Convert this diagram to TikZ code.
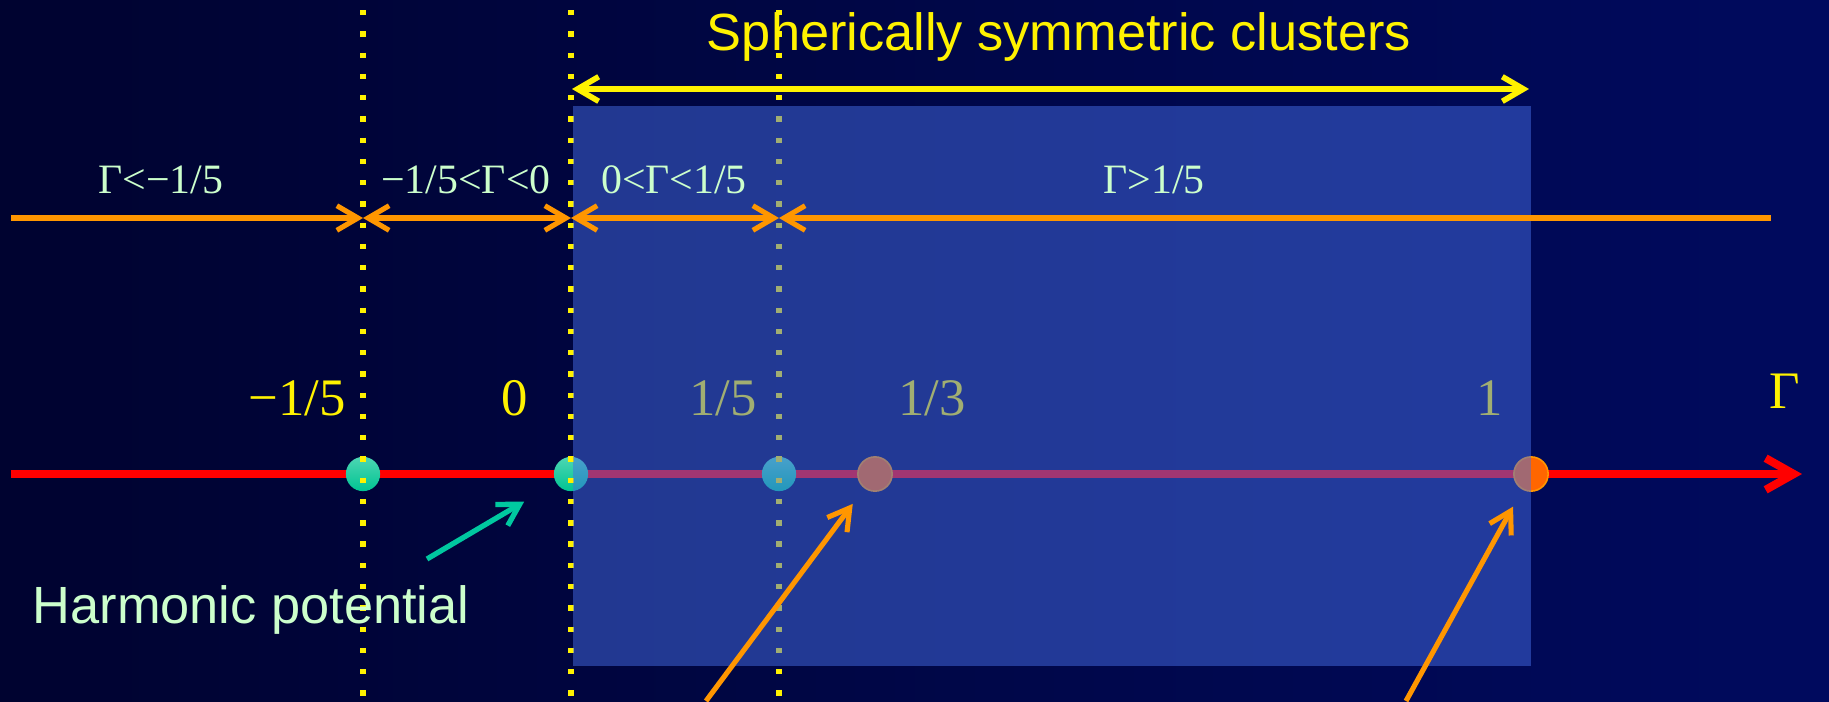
\documentclass[tikz,border=0pt]{standalone}
\usepackage{fontspec}
\setmainfont{Liberation Serif}
\setsansfont{Liberation Sans}
\usetikzlibrary{arrows.meta}
\definecolor{night}{RGB}{0,3,48}
\definecolor{deepnight}{RGB}{0,10,94}
\definecolor{zoneblue}{RGB}{68,108,228}
\definecolor{axisred}{RGB}{255,0,0}
\definecolor{amber}{RGB}{255,150,0}
\definecolor{mint}{RGB}{204,255,204}
\definecolor{ballgreen}{RGB}{0,196,146}
\definecolor{ballorange}{RGB}{255,102,0}
\definecolor{hintgreen}{RGB}{0,200,160}

\begin{document}
\begin{tikzpicture}[x=0.02cm, y=-0.02cm,
  barb/.tip={Straight Barb[length=12pt,width=14pt]},
  bigbarb/.tip={Straight Barb[length=16pt,width=18pt]},
  tick/.style={draw=yellow, line width=3pt, dash pattern=on 3pt off 9.1pt},
  ball/.style={circle, minimum size=19.5pt, inner sep=0pt},
  greenball/.style={ball, top color=ballgreen!70!white, bottom color=ballgreen},
  orangeball/.style={ball, fill=ballorange, draw=amber, line width=0.9pt},
  numlabel/.style={anchor=base, text=yellow, font=\fontsize{30}{34}\selectfont},
  zonelabel/.style={anchor=base, text=mint, font=\fontsize{23.8}{28}\selectfont},
  zoneline/.style={draw=amber, line width=2.9pt},
  pointer/.style={draw=amber, line width=2.9pt, -barb, shorten >=11pt}]
\useasboundingbox (0,0) rectangle (1829,701);
\clip (0,0) rectangle (1829,701);
\shade[left color=night, right color=deepnight] (0,0) rectangle (1829,701);
% --- the Gamma axis ---
\coordinate (axstart) at (11,474);
\coordinate (axend) at (1802,474);
\draw[axisred, line width=4.6pt, -bigbarb] (axstart) -- (axend);
\node[greenball] (bm) at (363,474) {};
\node[greenball] (bz) at (571,474) {};
\node[greenball] (bf) at (779,474) {};
\node[orangeball] (bt) at (875,474) {};
\node[orangeball] (bo) at (1531,474) {};
% dotted marks at -1/5, 0, 1/5
\foreach \x in {363,571,779}
  \draw[tick] (\x,10) -- (\x,701);
\node[numlabel] (lm) at (297,415) {−1/5};
\node[numlabel] (lz) at (515,415) {0};
\node[numlabel] (lf) at (723,415) {1/5};
\node[numlabel] (lt) at (932,415) {1/3};
\node[numlabel] (lo) at (1490,415) {1};
\node[numlabel] (lg) at (1785,408) {Γ};
% --- spherically symmetric zone ---
\fill[zoneblue, opacity=0.5] (573,106) rectangle (1531,666);
% --- the four ranges ---
\coordinate (r0) at (11,218);
\coordinate (r1) at (363,218);
\coordinate (r2) at (571,218);
\coordinate (r3) at (779,218);
\coordinate (r4) at (1771,218);
\draw[zoneline, -barb] (r0) -- (r1);
\draw[zoneline, barb-barb] (r1) -- (r2);
\draw[zoneline, barb-barb] (r2) -- (r3);
\draw[zoneline, barb-] (r3) -- (r4);
\node[zonelabel] (z1) at (161,193) {Γ<−1/5};
\node[zonelabel] (z2) at (466,193) {−1/5<Γ<0};
\node[zonelabel] (z3) at (674,193) {0<Γ<1/5};
\node[zonelabel] (z4) at (1154,193) {Γ>1/5};
% --- title arrow ---
\coordinate (sl) at (572,89);
\coordinate (sr) at (1529,89);
\draw[yellow, line width=3.2pt, barb-barb] (sl) -- (sr);
\node[anchor=base, text=yellow, font=\sffamily\fontsize{29.8}{34}\selectfont] (title) at (1059,50)
  {Spherically symmetric clusters};
% --- pointers ---
\coordinate (tt) at (706,701);
\coordinate (to) at (1406,701);
\draw[pointer] (tt) -- (bt);
\draw[pointer] (to) -- (bo);
\coordinate (ht) at (427,559);
\draw[hintgreen, line width=3pt, -barb, shorten >=21pt] (ht) -- (bz);
\node[anchor=base, text=mint, font=\sffamily\fontsize{29.8}{34}\selectfont] (harm) at (251,623)
  {Harmonic potential};
\end{tikzpicture}
\end{document}
